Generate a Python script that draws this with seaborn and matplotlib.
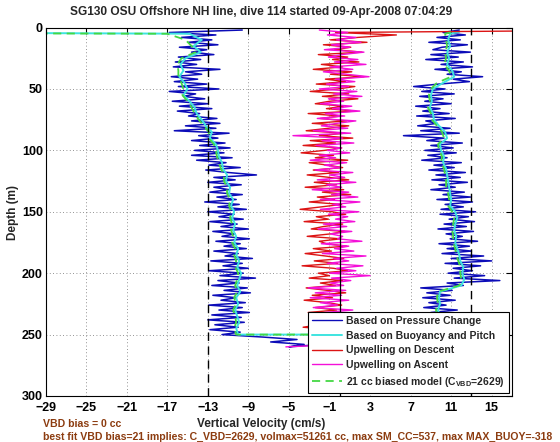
import numpy as np
import matplotlib
matplotlib.use("Agg")
import matplotlib.pyplot as plt
from matplotlib.lines import Line2D
import seaborn as sns

# ---------------- data ----------------
depth = list(range(2, 251, 2))                 # 2 m samples, descent & ascent
bottom_depth = [252, 254, 256, 258, 260]
model_depth = [3.5] + list(range(5, 251, 5))   # smoother series

blue_desc = [
    -9.6, -16.8, -12.2, -15.6, -12.6, -14.9, -12.0, -15.8, -13.1, -14.6,
    -12.4, -15.9, -13.7, -16.2, -14.1, -16.4, -11.8, -15.2, -13.6, -16.6,
    -14.0, -16.3, -13.1, -15.9, -11.9, -16.8, -14.2, -15.4, -13.3, -16.5,
    -13.0, -15.8, -12.6, -16.0, -13.8, -14.9, -12.1, -14.6, -11.8, -15.2,
    -12.2, -16.3, -10.9, -13.9, -12.0, -14.6, -11.3, -13.8, -10.8, -14.3,
    -11.4, -14.6, -10.6, -14.1, -11.2, -12.9, -9.8, -13.2, -11.0, -8.2,
    -12.4, -10.3, -13.0, -9.7, -12.4, -10.9, -12.8, -9.6, -12.1, -10.2,
    -13.3, -9.9, -12.0, -9.2, -13.0, -10.4, -11.9, -9.5, -12.8, -10.1,
    -11.7, -9.0, -12.5, -10.3, -11.6, -8.9, -12.2, -9.8, -11.4, -9.2,
    -12.4, -10.0, -11.3, -8.6, -12.7, -9.6, -11.5, -9.0, -12.9, -9.5,
    -11.8, -8.3, -12.0, -9.9, -12.6, -9.1, -11.4, -8.8, -12.5, -10.2,
    -11.7, -9.3, -12.9, -9.6, -11.9, -8.9, -12.6, -9.7, -13.0, -9.4,
    -12.3, -10.0, -12.8, -9.8, -11.6,
]
blue_bottom = [-7.6, -4.2, -6.8, -3.5, -5.0]
blue_asc = [
    11.8, 10.2, 12.4, 9.6, 11.9, 8.8, 12.6, 10.1, 9.2, 12.9,
    9.0, 11.7, 8.5, 12.2, 10.0, 13.1, 9.4, 12.0, 10.6, 14.1,
    11.2, 12.8, 9.8, 7.3, 10.4, 8.1, 11.3, 7.9, 10.2, 8.4,
    11.0, 7.5, 9.9, 8.2, 10.8, 7.6, 11.4, 8.5, 9.6, 7.7,
    10.9, 8.0, 11.8, 6.3, 10.3, 8.6, 12.1, 9.0, 11.2, 8.4,
    11.5, 8.7, 10.6, 8.1, 12.0, 9.3, 11.3, 8.8, 12.4, 9.5,
    11.9, 9.1, 12.6, 9.8, 11.4, 9.0, 12.3, 10.2, 12.9, 9.6,
    13.1, 10.4, 12.2, 10.0, 13.4, 9.9, 12.7, 10.8, 13.3, 10.3,
    12.5, 9.7, 13.2, 10.5, 12.1, 10.9, 13.6, 9.8, 12.8, 10.6,
    13.0, 10.1, 14.2, 11.0, 15.0, 10.4, 13.9, 11.2, 13.1, 10.7,
    14.3, 11.3, 15.8, 10.6, 12.2, 8.0, 11.1, 8.6, 10.9, 8.2,
    11.4, 8.8, 10.5, 8.3, 11.6, 9.0, 10.8, 8.7, 11.2, 9.3,
    11.8, 9.6, 12.0, 10.1, 11.4,
]
cyan_desc = [
    -60.0, -14.8, -13.6, -14.4, -13.7, -15.2, -15.7, -15.4, -15.8, -15.3,
    -15.0, -15.4, -14.8, -14.3, -14.1, -13.6, -13.2, -12.6, -12.8, -12.2,
    -12.0, -11.9, -11.6, -11.5, -11.1, -11.2, -10.8, -10.9, -10.5, -10.7,
    -10.4, -10.6, -10.3, -10.5, -10.2, -10.4, -10.0, -10.2, -9.9, -10.1,
    -9.7, -9.9, -10.1, -9.8, -10.2, -10.0, -10.3, -10.1, -9.9, -10.2,
    -10.0,
]
cyan_asc = [
    11.8, 10.9, 10.7, 10.9, 10.6, 10.8, 10.6, 11.1, 11.3, 10.2,
    9.2, 9.0, 9.1, 8.9, 9.2, 9.3, 9.8, 10.4, 10.6, 9.9,
    10.0, 10.3, 10.2, 10.5, 10.6, 10.7, 10.8, 10.9, 11.0, 10.9,
    11.4, 11.6, 11.4, 11.3, 11.5, 11.4, 11.6, 11.8, 11.9, 12.2,
    12.1, 12.3, 12.0, 9.9, 9.8, 9.9, 9.7, 9.9, 10.2, 10.4,
    10.4,
]
green_desc = [
    -100.0, -17.0, -15.2, -14.6, -14.2, -15.6, -16.0, -15.9, -15.9, -15.6,
    -15.4, -15.5, -15.0, -14.6, -14.3, -13.9, -13.4, -12.9, -12.9, -12.4,
    -12.2, -12.1, -11.9, -11.7, -11.4, -11.4, -11.1, -11.1, -10.8, -10.9,
    -10.7, -10.8, -10.6, -10.7, -10.5, -10.6, -10.3, -10.4, -10.2, -10.3,
    -10.0, -10.1, -10.3, -10.1, -10.4, -10.2, -10.5, -10.3, -10.2, -10.4,
    -10.2,
]
green_asc = [
    11.2, 10.4, 10.5, 10.6, 10.4, 10.5, 10.3, 10.8, 11.0, 9.6,
    9.0, 8.8, 8.9, 8.7, 9.0, 9.1, 9.6, 10.1, 10.3, 9.7,
    9.8, 10.1, 10.0, 10.3, 10.4, 10.5, 10.5, 10.7, 10.8, 10.7,
    11.1, 11.3, 11.2, 11.1, 11.2, 11.2, 11.4, 11.5, 11.7, 11.9,
    11.9, 12.0, 11.8, 9.7, 9.6, 9.7, 9.5, 9.7, 9.9, 10.1,
    10.2,
]
red_desc = [
    30.0, -0.4, 5.6, 1.8, -0.9, 2.7, -1.6, 1.1, -0.5, 2.2,
    -2.1, 0.8, -0.7, 1.9, -1.8, 0.3, -2.6, 1.2, -0.9, 2.4,
    -1.4, 0.6, -2.3, 1.5, -0.2, -2.9, 0.9, -1.7, 1.8, -1.0,
    -2.4, 0.4, -1.3, 1.6, -3.1, 0.1, -1.9, 0.7, -2.7, 0.9,
    -1.1, -3.3, 0.5, -2.0, 1.3, -2.9, -0.4, -3.6, 0.2, -1.5,
    -3.8, -0.6, -2.4, 0.8, -3.0, -1.2, 0.3, -2.6, -0.1, -3.2,
    -1.0, 0.9, -2.5, -0.3, -3.4, 0.4, -1.7, 1.1, -2.2, -0.5,
    -3.0, 0.2, -1.8, -3.9, -0.7, 0.6, -2.3, -1.1, -3.5, 0.3,
    -1.6, -2.8, 0.5, -0.9, -3.2, 0.1, -2.0, -1.3, 0.7, -2.6,
    -0.8, -3.4, -1.4, 0.4, -2.5, -0.2, -3.7, -0.6, 0.8, -2.1,
    -1.0, -3.0, 0.3, -1.9, -0.4, -3.3, -1.2, 0.6, -2.7, -0.7,
    -3.5, -1.1, 0.2, -2.4, -0.3, -3.1, -1.5, 0.5, -2.8, -0.9,
    -2.0, -3.6, -0.8, -1.7, -2.9,
]
magenta_asc = [
    -2.0, 0.8, -1.2, 1.6, -0.3, 2.1, -0.8, 1.0, -1.5, 2.4,
    0.2, -1.1, 1.8, -0.5, 2.6, -0.9, 1.3, -1.6, 0.6, 2.9,
    -0.4, 1.5, -1.3, 0.9, -2.0, 1.7, -0.6, 2.2, -1.1, 0.4,
    -1.9, 1.2, -0.7, 2.0, -1.4, 0.5, -2.2, 1.6, -0.3, -1.8,
    0.8, -2.6, 1.1, -4.6, 0.3, -1.7, 1.4, -2.3, 0.2, -1.2,
    1.0, -2.0, -0.4, -2.9, 0.7, -1.5, 0.1, -2.4, 1.3, -1.0,
    0.5, -2.2, 1.6, -1.3, 0.2, -2.7, 0.9, -0.8, 1.8, -1.9,
    2.0, -0.7, 0.6, -1.9, 1.9, -1.1, 0.8, -0.4, 1.5, -1.6,
    0.7, -2.1, 1.2, -0.9, 0.3, -0.2, 2.2, -1.8, 0.9, -0.5,
    1.4, -1.7, 2.6, -0.6, 0.9, -1.2, 2.3, -0.3, 1.6, -1.0,
    3.0, -0.8, 1.1, -0.9, 0.4, -3.1, 0.6, -2.4, 0.2, -2.9,
    0.9, -1.9, -0.2, -2.6, 1.3, -1.5, 0.3, -2.2, 1.0, -1.4,
    0.6, -1.2, 1.1, -0.7, 0.4,
]
magenta_bottom = [-1.0, 0.5, -1.8, 0.2, -5.3]

ref_solid = [0]
ref_dashed = [-13, 13]
xticks = [-29, -25, -21, -17, -13, -9, -5, -1, 3, 7, 11, 15]
yticks = [0, 50, 100, 150, 200, 250, 300]

labels = ["Based on Pressure Change", "Based on Buoyancy and Pitch",
          "Upwelling on Descent", "Upwelling on Ascent",
          r"21 cc biased model (C$_{\mathbf{VBD}}$=2629)"]
title = "SG130 OSU Offshore NH line, dive 114 started 09-Apr-2008 07:04:29"
note1 = "VBD bias = 0 cc"
note2 = ("best fit VBD bias=21 implies: C_VBD=2629, volmax=51261 cc, "
         "max SM_CC=537, max MAX_BUOY=-318")

# ---------------- styling ----------------
sns.set_theme(style="white")
plt.rcParams['font.family'] = ['Liberation Sans', 'DejaVu Sans']
plt.rcParams['font.weight'] = 'bold'
plt.rcParams['mathtext.fontset'] = 'custom'
plt.rcParams['mathtext.rm'] = 'Liberation Sans:bold'
plt.rcParams['mathtext.bf'] = 'Liberation Sans:bold'
plt.rcParams['axes.unicode_minus'] = True

c_blue = '#0c0cb8'
c_cyan = '#3ee4e0'
c_red = '#dc1414'
c_mag = '#f410d8'
c_green = '#44d844'

fig = plt.figure(figsize=(5.6, 4.42), dpi=100)
ax = fig.add_axes([0.0813, 0.1041, 0.833, 0.8335])

blue_x = blue_desc + blue_bottom + blue_asc[::-1]
blue_y = depth + bottom_depth + depth[::-1]
cyan_x = cyan_desc + cyan_asc[::-1]
cyan_y = model_depth + model_depth[::-1]
green_x = green_desc + green_asc[::-1]
mag_x = magenta_asc + magenta_bottom
mag_y = depth + bottom_depth

kw = dict(sort=False, estimator=None, ax=ax, legend=False)
sns.lineplot(x=blue_x, y=blue_y, color=c_blue, lw=1.1, **kw)
sns.lineplot(x=cyan_x, y=cyan_y, color=c_cyan, lw=1.4, **kw)
sns.lineplot(x=red_desc, y=depth, color=c_red, lw=1.0, **kw)
sns.lineplot(x=mag_x, y=mag_y, color=c_mag, lw=1.0, **kw)
sns.lineplot(x=green_x, y=cyan_y, color=c_green, lw=1.3,
             linestyle=(0, (4.5, 3)), **kw)

for v in ref_solid:
    ax.axvline(v, color='black', lw=0.9, zorder=3)
for v in ref_dashed:
    ax.axvline(v, color='black', lw=1.0, linestyle=(0, (6, 4)), zorder=3)

ax.set_xlim(-29, 17)
ax.set_ylim(300, 0)
ax.set_xticks(xticks)
ax.set_yticks(yticks)
ax.grid(True, linestyle=(0, (1, 3)), color='#707070', lw=0.6)
ax.tick_params(direction='in', top=True, right=True, length=4, width=0.8,
               labelsize=9, colors='black')
ax.tick_params(axis='x', pad=4)
ax.tick_params(axis='y', pad=2)
for s in ax.spines.values():
    s.set_color('black')
    s.set_linewidth(0.8)
ax.set_xlabel("")
ax.set_ylabel("")

handles = [
    Line2D([], [], color=c_blue, lw=1.0),
    Line2D([], [], color=c_cyan, lw=1.4),
    Line2D([], [], color=c_red, lw=1.0),
    Line2D([], [], color=c_mag, lw=1.0),
    Line2D([], [], color=c_green, lw=1.3, linestyle=(0, (4.5, 3))),
]
leg = ax.legend(handles, labels, loc='lower right', fontsize=7.5,
                frameon=True, fancybox=False, framealpha=1,
                edgecolor='black', borderaxespad=0.3, handlelength=2.9,
                handletextpad=0.35, labelspacing=0.45, borderpad=0.4)
leg.get_frame().set_linewidth(0.8)

fig.text(0.467, 1 - 12 / 442, title, ha='center', va='center',
         fontsize=8.6, fontweight='bold')
fig.text(0.467, 1 - 424 / 442, "Vertical Velocity (cm/s)", ha='center',
         va='center', fontsize=8.5, fontweight='bold')
fig.text(13 / 560, 1 - 212 / 442, "Depth (m)", ha='center', va='center',
         rotation=90, fontsize=8.5, fontweight='bold')
fig.text(43 / 560, 1 - 424 / 442, note1, ha='left', va='center',
         fontsize=7.6, fontweight='bold', color='#8c3c10')
fig.text(43 / 560, 1 - 437 / 442, note2, ha='left', va='center',
         fontsize=7.6, fontweight='bold', color='#8c3c10')

fig.savefig("out.png", dpi=100, facecolor='white')
